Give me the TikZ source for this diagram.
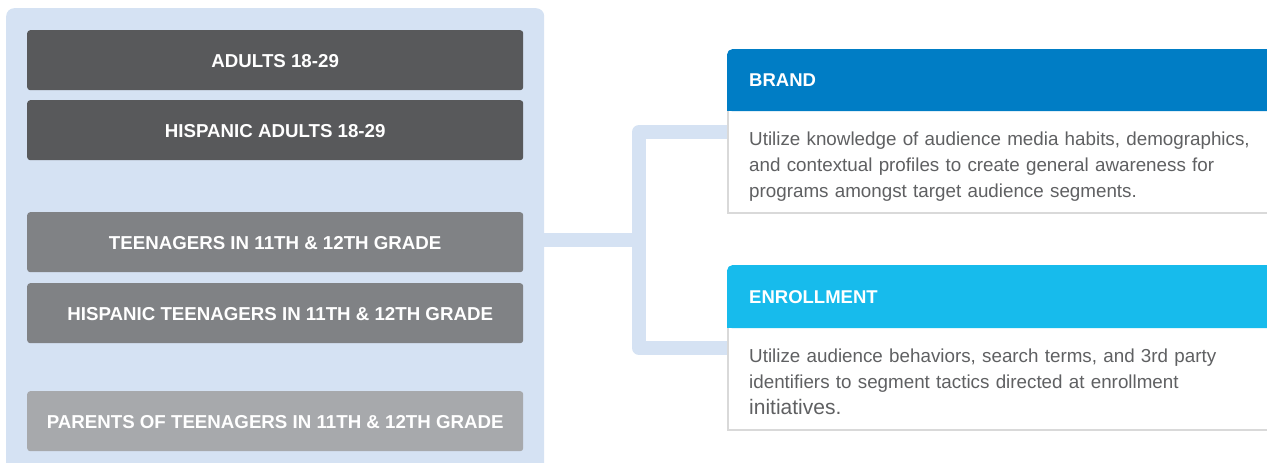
\documentclass[tikz,border=0pt]{standalone}
\usepackage{fontspec}
\setmainfont{Liberation Sans}
\usetikzlibrary{backgrounds}
\definecolor{panelc}{HTML}{D5E2F3}
\definecolor{darkc}{HTML}{58595B}
\definecolor{midc}{HTML}{808285}
\definecolor{lightc}{HTML}{A7A9AC}
\definecolor{brandc}{HTML}{007DC5}
\definecolor{enrollc}{HTML}{17BBEC}
\definecolor{bodyc}{HTML}{5F6062}
\definecolor{bordc}{HTML}{D9D9D9}
\begin{document}
\begin{tikzpicture}[x=1pt,y=-1pt,
  seg/.style={rounded corners=3, minimum width=496, minimum height=60, text=white,
    font=\fontsize{18.7}{22}\selectfont\bfseries, inner sep=0, anchor=north west,
    text height=15.4, text depth=0},
  conn/.style={draw=panelc, line width=14, line join=round},
  hdr/.style={anchor=north west, minimum width=560, minimum height=62, rounded corners=5,
    text=white, font=\fontsize{18.5}{22}\selectfont\bfseries, text width=516,
    inner xsep=22, inner ysep=0, align=left},
  bodybox/.style={anchor=north west, fill=white, minimum width=560, minimum height=103,
    inner sep=0},
  bodytext/.style={text width=516, inner sep=0, align=left, text=bodyc,
    font=\fontsize{18.8}{26}\selectfont},
  border/.style={draw=bordc, line width=2}]
\useasboundingbox (0,0) rectangle (1267,463);
\clip (0,0) rectangle (1267,463);

% left panel
\node[fill=panelc, rounded corners=8, anchor=north west, minimum width=538,
  minimum height=470, inner sep=0] (panel) at (6,8) {};

\node[seg, fill=darkc]  (s1) at (27,30)  {ADULTS 18-29};
\node[seg, fill=darkc]  (s2) at (27,100) {HISPANIC ADULTS 18-29};
\node[seg, fill=midc]   (s3) at (27,212) {TEENAGERS IN 11TH \& 12TH GRADE};
\node[seg, fill=midc]   (s4) at (27,283) {\hspace*{10pt}HISPANIC TEENAGERS IN 11TH \& 12TH GRADE};
\node[seg, fill=lightc] (s5) at (27,391) {PARENTS OF TEENAGERS IN 11TH \& 12TH GRADE};

% right boxes
\node[bodybox] (brandb) at (727,111) {};
\node[bodytext, anchor=west] (brandt) at ([xshift=22pt,yshift=-3.5pt]brandb.west)
  {Utilize knowledge of audience media habits, demographics,\\
   and contextual profiles to create general awareness for\\
   programs amongst target audience segments.};
\draw[border] ([xshift=1pt]brandb.north west) -- ([xshift=1pt,yshift=1pt]brandb.south west)
  -- ([yshift=1pt]brandb.south east);
\node[hdr, fill=brandc] (brandh) at (727,49) {BRAND};
\fill[brandc] (brandh.south west) rectangle ++(10,-10);

\node[bodybox] (enrollb) at (727,328) {};
\node[bodytext, anchor=west] (enrollt) at ([xshift=22pt,yshift=-2pt]enrollb.west)
  {Utilize audience behaviors, search terms, and 3rd party\\
   identifiers to segment tactics directed at enrollment\\
   {\fontsize{21}{26}\selectfont initiatives.}};
\draw[border] ([xshift=1pt]enrollb.north west) -- ([xshift=1pt,yshift=1pt]enrollb.south west)
  -- ([yshift=1pt]enrollb.south east);
\node[hdr, fill=enrollc, minimum height=63] (enrollh) at (727,265) {ENROLLMENT};
\fill[enrollc] (enrollh.south west) rectangle ++(10,-10);

% connectors
\coordinate (j)  at (639,240);
\coordinate (jt) at (639,132);
\coordinate (jb) at (639,348);
\begin{scope}[on background layer]
\draw[conn] (panel.east |- j) -- (j);
\draw[conn] (brandb.west |- jt) -- (jt) -- (jb) -- (enrollb.west |- jb);
\end{scope}
\end{tikzpicture}
\end{document}
